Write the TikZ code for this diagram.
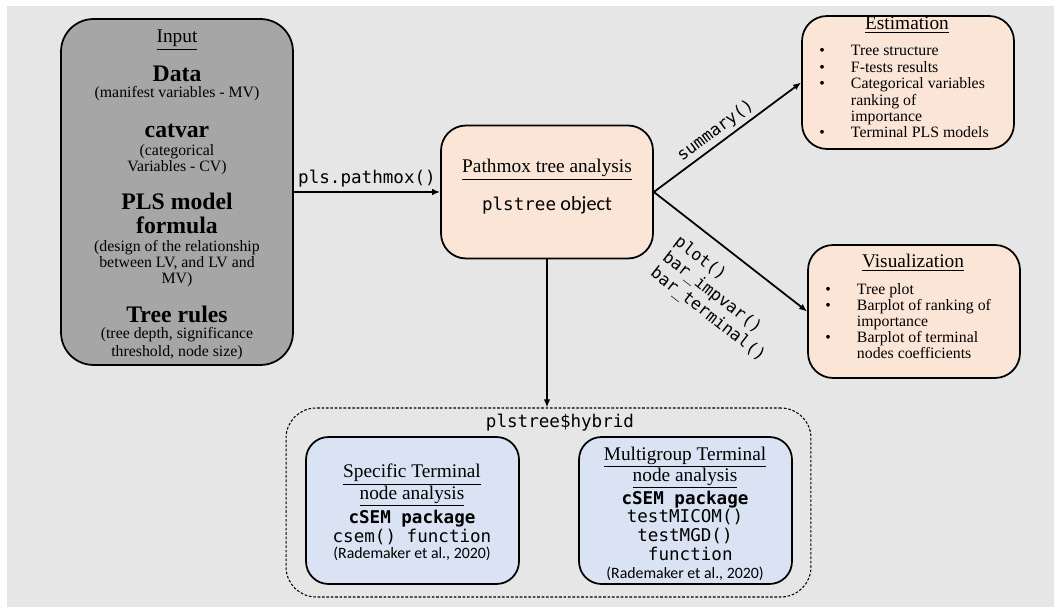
\documentclass[tikz,border=0pt]{standalone}
\usepackage{fontspec}
\setmainfont{Liberation Serif}
\setmonofont{DejaVu Sans Mono}
\newfontfamily\calibri{Carlito}
\usepackage{tikz}
\usetikzlibrary{arrows.meta}
\definecolor{BackGray}{HTML}{E7E6E6}
\definecolor{InputGray}{HTML}{A6A6A6}
\definecolor{Peach}{HTML}{FBE5D6}
\definecolor{PaleBlue}{HTML}{DAE3F3}
\newcommand{\fsz}[2]{\fontsize{#1}{#2}\selectfont}

\tikzset{
  box/.style={draw=black, line width=1pt, inner sep=0pt},
  inputbox/.style={box, fill=InputGray, rounded corners=0.65cm, minimum width=4.64cm, minimum height=6.92cm},
  peachbox/.style={box, fill=Peach, rounded corners=0.5cm, minimum width=4.24cm, minimum height=2.66cm},
  bluebox/.style={box, fill=PaleBlue, rounded corners=0.45cm, minimum width=4.26cm, minimum height=2.94cm},
  hybridbox/.style={draw=black, line width=0.6pt, dash pattern=on 1.5pt off 1pt, rounded corners=0.6cm, inner sep=0pt, minimum width=10.5cm, minimum height=3.78cm},
  flow/.style={-{Latex[length=1.6mm,width=1.3mm]}, line width=1pt},
  txt/.style={anchor=base, inner sep=0pt},
  head/.style={txt, font=\fsz{11}{12}},
  big/.style={txt, font=\fsz{13.5}{13}\bfseries},
  code/.style={font=\fsz{9.5}{11.2}\ttfamily}
}

\begin{document}
\begin{tikzpicture}[x=0.02cm, y=-0.02cm]
\useasboundingbox (0,0) rectangle (1054,607);
\fill[white] (0,0) rectangle (1054,607);
\fill[BackGray] (7,6) rectangle (1054,607);

% boxes
\node[inputbox] (input) at (177,192) {};
\node[peachbox] (pathmox) at (547,192) {};
\node[peachbox] (estim) at (908,82.5) {};
\node[peachbox] (visual) at (914,311.5) {};
\node[hybridbox] (hybrid) at (548.5,502.5) {};
\node[bluebox] (specific) at (412.5,510.5) {};
\node[bluebox] (multi) at (685.5,510.5) {};

% input
\node[head] (intitle) at (177,43) {\underline{Input}};
\node[big] (data) at (177,82) {Data};
\node[txt, font=\fsz{9}{9}] (datadesc) at (177,98) {(manifest variables - MV)};
\node[big] (catvar) at (177,138) {catvar};
\node[txt, font=\fsz{9}{8.5}] (catdesc) at (177,156) {\begin{tabular}[t]{@{}c@{}}(categorical\\Variables - CV)\end{tabular}};
\node[big] (pls) at (177,210) {\begin{tabular}[t]{@{}c@{}}PLS model\\formula\end{tabular}};
\node[txt, font=\fsz{9}{9}] (plsdesc) at (177,252) {\begin{tabular}[t]{@{}c@{}}(design of the relationship\\between LV, and LV and\\MV)\end{tabular}};
\node[big] (rules) at (177,323) {Tree rules};
\node[txt, font=\fsz{9}{10.2}] (rulesdesc) at (177,339) {\begin{tabular}[t]{@{}c@{}}(tree depth, significance\\threshold, node size)\end{tabular}};

% pathmox
\node[head] (pmtitle) at (547,173) {\underline{Pathmox tree analysis}};
\node[txt, font=\fsz{10}{12}] (pmobj) at (547,211) {\texttt{plstree} {\calibri\fsz{11.5}{12}object}};

% estimation
\node[head] (esttitle) at (907,30) {\underline{Estimation}};
\node[txt, anchor=base west, font=\fsz{9}{9.3}] (estlist) at (819,56) {\begin{tabular}[t]{@{}p{18pt}@{}l@{}}
\textbullet & Tree structure\\
\textbullet & F-tests results\\
\textbullet & Categorical variables\\
 & ranking of\\
 & importance\\
\textbullet & Terminal PLS models
\end{tabular}};

% visualization
\node[head] (vistitle) at (913,268) {\underline{Visualization}};
\node[txt, anchor=base west, font=\fsz{9}{8.9}] (vislist) at (825,295) {\begin{tabular}[t]{@{}p{18pt}@{}l@{}}
\textbullet & Tree plot\\
\textbullet & Barplot of ranking of\\
 & importance\\
\textbullet & Barplot of terminal\\
 & nodes coefficients
\end{tabular}};

% hybrid
\node[txt, font=\fsz{10}{12}\ttfamily] (hybtitle) at (560,428) {plstree\$hybrid};
\node[txt, font=\fsz{11}{10.8}] (spectitle) at (412,478) {\begin{tabular}[t]{@{}c@{}}\underline{Specific Terminal}\\\underline{node analysis}\end{tabular}};
\node[txt, font=\fsz{10}{10.8}\ttfamily] (specpkg) at (412,523) {\begin{tabular}[t]{@{}c@{}}\textbf{cSEM package}\\csem() function\\[-1.7pt]{\calibri\fsz{9}{9}(Rademaker et al., 2020)}\end{tabular}};
\node[txt, font=\fsz{11}{10.2}] (multitle) at (685,460) {\begin{tabular}[t]{@{}c@{}}\underline{Multigroup Terminal}\\\underline{node analysis}\end{tabular}};
\node[txt, font=\fsz{10}{10.35}\ttfamily] (multipkg) at (685,504) {\begin{tabular}[t]{@{}c@{}}\textbf{cSEM package}\\testMICOM()\\testMGD()\\\ function\\{\calibri\fsz{9}{9}(Rademaker et al., 2020)}\end{tabular}};

% connectors
\draw[flow] (input.east) -- node[midway, above, inner sep=2pt, font=\fsz{10}{12}\ttfamily] (plscall) {pls.pathmox()} (pathmox.west);
\draw[flow] (pathmox.east) -- node[sloped, pos=0.47, above, inner sep=2pt, code] (sumcall) {summary()} (estim.west);
\draw[flow] (pathmox.east) -- node[sloped, pos=0.24, anchor=north west, inner xsep=0pt, inner ysep=8pt, code] (plotcall) {\begin{tabular}[t]{@{}l@{}}plot()\\bar\_impvar()\\bar\_terminal()\end{tabular}} (visual.west);
\draw[flow] (pathmox.south) -- (pathmox.south |- hybrid.north);
\end{tikzpicture}
\end{document}
